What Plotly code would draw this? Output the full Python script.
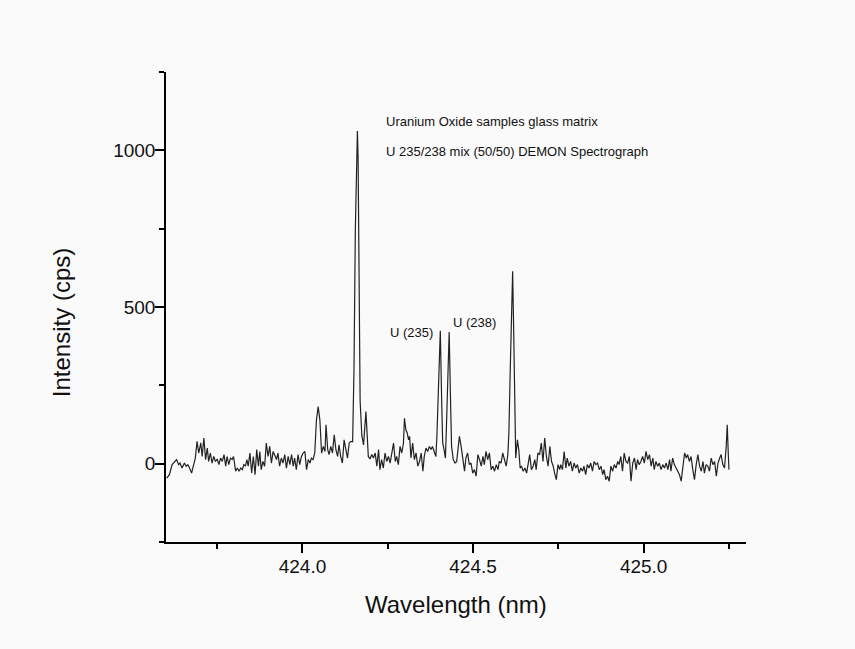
import plotly.graph_objects as go

# ---- data ----
wavelength_nm = [
    423.602, 423.610, 423.618, 423.625, 423.631, 423.637, 423.641, 423.647, 423.654, 423.659,
    423.664, 423.669, 423.675, 423.680, 423.686, 423.691, 423.696, 423.702, 423.706, 423.711,
    423.716, 423.721, 423.725, 423.730, 423.735, 423.740, 423.745, 423.750, 423.755, 423.760,
    423.765, 423.770, 423.775, 423.779, 423.784, 423.789, 423.794, 423.798, 423.804, 423.809,
    423.814, 423.819, 423.824, 423.828, 423.833, 423.837, 423.841, 423.846, 423.851, 423.856,
    423.861, 423.866, 423.871, 423.875, 423.879, 423.884, 423.889, 423.894, 423.899, 423.904,
    423.909, 423.914, 423.919, 423.924, 423.928, 423.933, 423.938, 423.943, 423.948, 423.953,
    423.958, 423.963, 423.968, 423.973, 423.977, 423.982, 423.987, 423.992, 423.997, 424.002,
    424.007, 424.012, 424.017, 424.022, 424.026, 424.031, 424.036, 424.041, 424.046, 424.051,
    424.056, 424.061, 424.066, 424.069, 424.074, 424.078, 424.083, 424.088, 424.093, 424.098,
    424.103, 424.107, 424.112, 424.117, 424.122, 424.127, 424.132, 424.137, 424.142,
    424.147, 424.151, 424.155, 424.159, 424.161, 424.163, 424.166, 424.169, 424.174, 424.179,
    424.186, 424.193,
    424.198, 424.203, 424.208, 424.213, 424.218, 424.223, 424.227, 424.232, 424.237, 424.242,
    424.247, 424.252, 424.257, 424.262, 424.267, 424.272, 424.276, 424.281, 424.286, 424.291,
    424.296, 424.299, 424.303, 424.307, 424.311, 424.314, 424.318, 424.323, 424.328, 424.333,
    424.338, 424.343, 424.348, 424.353, 424.357, 424.362, 424.367, 424.372, 424.377, 424.381,
    424.386, 424.391, 424.394, 424.397, 424.400, 424.404, 424.408, 424.411, 424.415, 424.419,
    424.422, 424.426, 424.430, 424.434, 424.437, 424.442, 424.447, 424.452, 424.456, 424.460,
    424.465, 424.470, 424.475, 424.479, 424.484, 424.489, 424.494, 424.499, 424.504, 424.509,
    424.514, 424.519, 424.524, 424.529, 424.533, 424.538, 424.543, 424.548, 424.553, 424.558,
    424.563, 424.568, 424.573, 424.577, 424.582, 424.587, 424.592, 424.597, 424.602, 424.605,
    424.609, 424.613, 424.616, 424.619, 424.622, 424.625, 424.630,
    424.634, 424.638, 424.642, 424.647, 424.652, 424.657, 424.662, 424.666, 424.671, 424.676,
    424.681, 424.685, 424.690, 424.695, 424.700, 424.705, 424.710, 424.715, 424.720, 424.725,
    424.730, 424.735, 424.739, 424.744, 424.749, 424.754,
    424.757, 424.762, 424.767, 424.772, 424.776, 424.781, 424.786, 424.791, 424.796, 424.801,
    424.806, 424.811, 424.816, 424.821, 424.825, 424.830, 424.835, 424.840, 424.845, 424.850,
    424.855, 424.860, 424.865, 424.870, 424.875, 424.880, 424.884, 424.889, 424.894, 424.899,
    424.904, 424.909, 424.914, 424.919, 424.924, 424.928, 424.933, 424.938, 424.943, 424.948,
    424.953, 424.958, 424.963, 424.968, 424.973, 424.978, 424.982, 424.987, 424.992, 424.997,
    425.002, 425.007, 425.012, 425.017, 425.022, 425.027, 425.031, 425.036, 425.041, 425.046,
    425.051, 425.056, 425.061, 425.066, 425.071, 425.076, 425.080, 425.085, 425.090, 425.095,
    425.100, 425.105, 425.110, 425.115, 425.120, 425.125, 425.129, 425.134, 425.139, 425.144,
    425.149, 425.154, 425.159, 425.164, 425.169, 425.174, 425.178, 425.183, 425.188, 425.193,
    425.198, 425.203, 425.208, 425.213, 425.218, 425.223, 425.227, 425.232, 425.237, 425.242,
    425.245, 425.248, 425.250,
]

intensity_cps = [
    -46, -35, -3, 7, 13, -3, 2, -14, 2, -8,
    -3, -14, -30, -8, 18, 71, 34, 66, 23, 82,
    13, 50, 7, 34, 2, 23, 7, 15, -3, 18,
    7, 29, -8, 23, -3, 18, 13, 23, -24, -14,
    -24, -14, -19, -3, -8, 13, -8, 34, -30, 23,
    -35, 45, -8, 39, -19, 7, -8, 66, 23, 55,
    2, 39, 23, 13, 34, -8, 18, 2, 29, -14,
    23, -3, 29, -8, 18, -19, 29, -3, 23, 34,
    39, -19, 13, 2, 18, 13, 34, 140, 182, 140,
    34, 55, 39, 124, 45, 29, 55, 34, 92, 45,
    23, 60, 23, 2, 76, 45, 18, 66, 71,
    70, 300, 750, 1040, 1062, 980, 600, 200, 90, 60,
    166, 23,
    15, 29, 18, 34, -8, 45, -19, 13, -14, 34,
    7, 23, 2, 39, 66, 7, 23, -3, 55, 34,
    66, 145, 108, 98, 76, 87, 18, 66, 13, 34,
    -8, 7, 34, -24, 23, 50, 39, 55, 45, 55,
    39, 23, 87, 182, 300, 424, 200, 66, 45, 18,
    120, 300, 420, 200, 55, 13, 2, 7, 55, 87,
    55, 13, -24, 18, 34, -3, 2, -30, -19, -40,
    29, 13, -8, 23, -3, 39, 13, 34, -19, -8,
    -24, -3, -19, 7, 2, 34, 7, -8, 29, 98,
    300, 560, 614, 430, 150, 18, 76,
    45, -14, -8, -24, -14, -30, -3, 29, -19, -8,
    13, -19, 34, 29, 66, 7, 82, 23, -8, 55,
    7, -8, -30, -51, -3, -19,
    -3, -19, 39, -14, 18, -8, 7, -24, 2, -14,
    -3, -30, -14, -24, -8, -35, -3, -14, 2, -24,
    7, -3, 2, -19, -8, -35, -19, -51, -40, -56,
    -8, -24, -3, -14, 7, -3, 23, -24, 34, 7,
    2, 23, -56, 2, 18, -19, 13, -3, 7, 23,
    2, 39, 13, 29, -8, 18, -19, 7, -8, 2,
    -19, -3, -14, 2, -19, 13, -24, 18, -3, -14,
    -24, -35, -56, -8, 34, 18, 29, 7, 23, -19,
    -51, -3, 29, -8, -24, 7, -30, -3, -8, -24,
    18, -3, 7, -40, 2, 18, 29, -3, -14, 55,
    124, 34, -19,
]

x_tick_vals = [424.0, 424.5, 425.0]
y_tick_vals = [0, 500, 1000]

title_lines = ["Uranium Oxide samples glass matrix",
               "U 235/238 mix (50/50) DEMON Spectrograph"]
peak_labels = ["U (235)", "U (238)"]
peak_label_pos = [(424.389, 420), (424.436, 450)]
title_pos = [(424.239, 1093), (424.239, 995)]

FONT = "Liberation Sans, Arial, sans-serif"
BG = "#fafafa"

fig = go.Figure()
fig.add_trace(go.Scatter(
    x=wavelength_nm, y=intensity_cps, mode="lines",
    line=dict(color="#222222", width=1.2), hoverinfo="skip", showlegend=False,
))

axis_common = dict(
    showline=True, linecolor="black", linewidth=1.5, mirror=False,
    ticks="outside", ticklen=9, tickwidth=1.5, tickcolor="black",
    showgrid=False, zeroline=False,
    tickfont=dict(family=FONT, size=19, color="#111"),
)

fig.update_xaxes(range=[423.6, 425.3], tickmode="array", tickvals=x_tick_vals,
                 tickformat=".1f", ticklabelstandoff=-3,
                 minor=dict(ticks="outside", ticklen=5, tickwidth=1.5, tickcolor="black",
                            dtick=0.25, tick0=423.75, showgrid=False),
                 **axis_common)
fig.update_yaxes(range=[-250, 1250], tickmode="array", tickvals=y_tick_vals,
                 ticklabelstandoff=-4,
                 minor=dict(ticks="outside", ticklen=5, tickwidth=1.5, tickcolor="black",
                            dtick=250, tick0=0, showgrid=False),
                 **axis_common)

for txt, (xx, yy) in zip(title_lines, title_pos):
    fig.add_annotation(x=xx, y=yy, xref="x", yref="y", text=txt, showarrow=False,
                       xanchor="left", yanchor="middle",
                       font=dict(family=FONT, size=13, color="#111"))

fig.add_annotation(x=peak_label_pos[0][0], y=peak_label_pos[0][1], xref="x", yref="y",
                   text=peak_labels[0], showarrow=False, xanchor="right", yanchor="middle",
                   font=dict(family=FONT, size=13, color="#111"))
fig.add_annotation(x=peak_label_pos[1][0], y=peak_label_pos[1][1], xref="x", yref="y",
                   text=peak_labels[1], showarrow=False, xanchor="left", yanchor="middle",
                   font=dict(family=FONT, size=13, color="#111"))

fig.add_annotation(x=0.5, y=-0.132, xref="paper", yref="paper", text="Wavelength (nm)",
                   showarrow=False, xanchor="center", yanchor="middle",
                   font=dict(family=FONT, size=24, color="#111"))
fig.add_annotation(x=-0.179, y=0.466, xref="paper", yref="paper", text="Intensity (cps)",
                   showarrow=False, xanchor="center", yanchor="middle", textangle=-90,
                   font=dict(family=FONT, size=24, color="#111"))

fig.update_layout(
    width=855, height=649,
    margin=dict(l=166, r=109, t=72, b=107),
    paper_bgcolor=BG, plot_bgcolor=BG,
    showlegend=False,
)

fig.write_html(
    "out.html",
    config={"displayModeBar": False},
    post_script="document.body.style.margin='0';document.body.style.background='" + BG + "';",
)
